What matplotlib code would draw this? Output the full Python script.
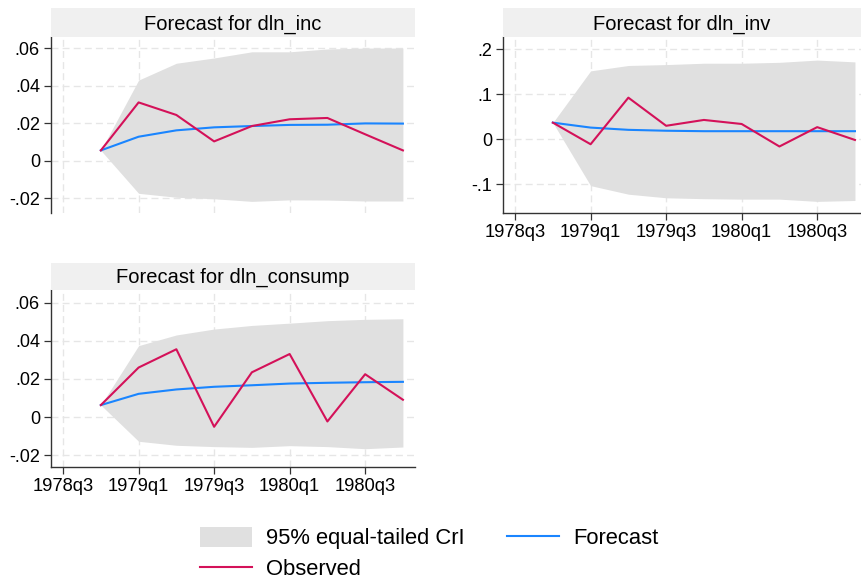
import matplotlib
matplotlib.use("Agg")
import matplotlib.pyplot as plt
from matplotlib.patches import Patch
from matplotlib.lines import Line2D

plt.rcParams['font.family'] = ['Liberation Sans', 'DejaVu Sans']

quarters = ['1978q4', '1979q1', '1979q2', '1979q3', '1979q4',
            '1980q1', '1980q2', '1980q3', '1980q4']

inc_obs = [0.0054, 0.0310, 0.0243, 0.0102, 0.0184, 0.0220, 0.0227, 0.0140, 0.0054]
inc_fc = [0.0054, 0.0127, 0.0161, 0.0177, 0.0184, 0.0190, 0.0191, 0.0198, 0.0197]
inc_hi = [0.0054, 0.0429, 0.0519, 0.0547, 0.0580, 0.0580, 0.0595, 0.0600, 0.0600]
inc_lo = [0.0054, -0.0175, -0.0196, -0.0204, -0.0218, -0.0210, -0.0211, -0.0216, -0.0216]

inv_obs = [0.037, -0.011, 0.0925, 0.030, 0.043, 0.034, -0.016, 0.027, -0.0015]
inv_fc = [0.037, 0.026, 0.021, 0.019, 0.018, 0.018, 0.018, 0.018, 0.018]
inv_hi = [0.037, 0.152, 0.164, 0.166, 0.169, 0.169, 0.171, 0.176, 0.172]
inv_lo = [0.037, -0.103, -0.122, -0.130, -0.132, -0.133, -0.133, -0.138, -0.136]

con_obs = [0.0063, 0.0260, 0.0356, -0.0051, 0.0235, 0.0331, -0.0023, 0.0225, 0.0091]
con_fc = [0.0063, 0.0122, 0.0145, 0.0159, 0.0167, 0.0176, 0.0180, 0.0183, 0.0185]
con_hi = [0.0063, 0.0375, 0.0431, 0.0462, 0.0481, 0.0493, 0.0506, 0.0513, 0.0516]
con_lo = [0.0063, -0.0127, -0.0148, -0.0155, -0.0159, -0.0150, -0.0155, -0.0166, -0.0157]

xtick_labels = ['1978q3', '1979q1', '1979q3', '1980q1', '1980q3']
titles = ['Forecast for dln_inc', 'Forecast for dln_inv', 'Forecast for dln_consump']

ytick_small = [-0.02, 0, 0.02, 0.04, 0.06]
ytick_small_lab = ['-.02', '0', '.02', '.04', '.06']
ytick_inv = [-0.1, 0, 0.1, 0.2]
ytick_inv_lab = ['-.1', '0', '.1', '.2']


def qnum(s):
    y, q = s.split('q')
    return int(y) * 4 + int(q) - 1


x = [qnum(s) for s in quarters]
xt = [qnum(s) for s in xtick_labels]

C_BAND = '#e0e0e0'
C_FC = '#1a85ff'
C_OBS = '#d41159'
C_STRIP = '#f0f0f0'
C_GRID = '#e6e6e6'

W, H = 861, 577
fig = plt.figure(figsize=(W / 100, H / 100), dpi=100)


def fax(x0, y0, x1, y1):
    return fig.add_axes([x0 / W, 1 - y1 / H, (x1 - x0) / W, (y1 - y0) / H])


def panel(box, strip, title, obs, fc, lo, hi, yt, ytl, ylim, xlim, show_x):
    ax = fax(*box)
    ax.fill_between(x, lo, hi, color=C_BAND, lw=0, zorder=1)
    ax.plot(x, fc, color=C_FC, lw=1.5, zorder=3)
    ax.plot(x, obs, color=C_OBS, lw=1.5, zorder=4)
    ax.set_xlim(*xlim)
    ax.set_ylim(*ylim)
    ax.set_yticks(yt)
    ax.set_yticklabels(ytl)
    ax.set_xticks(xt)
    ax.grid(True, color=C_GRID, ls=(0, (5, 3)), lw=1.0, zorder=0)
    ax.set_axisbelow(True)
    for s in ['top', 'right']:
        ax.spines[s].set_visible(False)
    ax.spines['left'].set_color('#333333')
    ax.spines['left'].set_linewidth(1.0)
    ax.tick_params(axis='y', length=5, width=0.9, color='#333333',
                   labelsize=13, pad=3)
    if show_x:
        ax.set_xticklabels(xtick_labels)
        ax.spines['bottom'].set_color('#333333')
        ax.spines['bottom'].set_linewidth(1.0)
        ax.tick_params(axis='x', length=5, width=0.9, color='#333333',
                       labelsize=13.2, pad=3)
    else:
        ax.spines['bottom'].set_visible(False)
        ax.tick_params(axis='x', length=0, labelbottom=False)
    sax = fax(*strip)
    sax.set_facecolor(C_STRIP)
    sax.set_xticks([])
    sax.set_yticks([])
    for s in sax.spines.values():
        s.set_visible(False)
    sax.text(0.5, 0.45, title, ha='center', va='center', fontsize=14.5,
             transform=sax.transAxes)
    return ax


q0 = qnum('1978q3')
qe = qnum('1980q4')
xlim_l = (q0 - 0.32, qe + 0.32)
xlim_r = (q0 - 0.32, qe + 0.16)

panel((51, 37, 415, 213), (51, 8, 415, 37), titles[0], inc_obs, inc_fc, inc_lo, inc_hi,
      ytick_small, ytick_small_lab, (-0.028, 0.0659), xlim_l, False)
panel((503, 37, 861, 213), (503, 8, 861, 37), titles[1], inv_obs, inv_fc, inv_lo, inv_hi,
      ytick_inv, ytick_inv_lab, (-0.1638, 0.2273), xlim_r, True)
panel((51, 290, 415, 467), (51, 263, 415, 290), titles[2], con_obs, con_fc, con_lo, con_hi,
      ytick_small, ytick_small_lab, (-0.0262, 0.0667), xlim_l, True)

handles = [Patch(facecolor=C_BAND, edgecolor='none'),
           Line2D([], [], color=C_OBS, lw=1.5),
           Line2D([], [], color=C_FC, lw=1.5)]
labels = ['95% equal-tailed CrI', 'Observed', 'Forecast']
fig.legend(handles, labels, ncol=2, loc='upper left', frameon=False,
           bbox_to_anchor=(200 / W, 1 - 527 / H), borderpad=0, borderaxespad=0,
           fontsize=15.8, handlelength=2.36, handleheight=1.0, handletextpad=0.64,
           columnspacing=1.95, labelspacing=0.39)

fig.savefig('out.png', dpi=100)
